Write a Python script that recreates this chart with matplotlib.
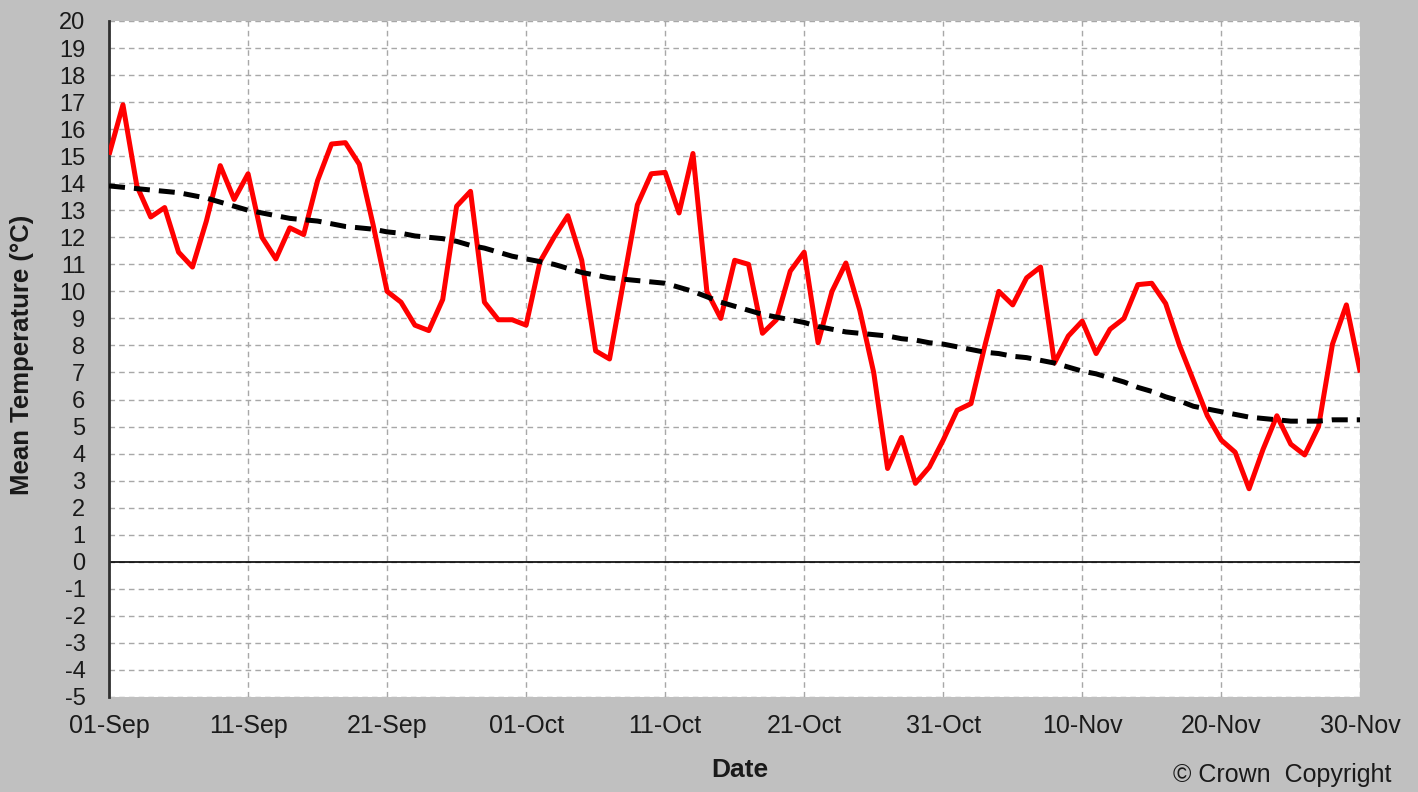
import matplotlib
matplotlib.use('Agg')
import matplotlib.pyplot as plt
import matplotlib.dates as mdates
import numpy as np
import pandas as pd

plt.rcParams['font.family'] = ['Liberation Sans', 'DejaVu Sans']
plt.rcParams['axes.unicode_minus'] = False

# Daily mean temperature, 1 Sep - 30 Nov
dates = pd.date_range('2023-09-01', '2023-11-30', freq='D')

daily_mean = [
    15.05, 16.9, 13.9, 12.75, 13.1, 11.45, 10.9, 12.6, 14.65, 13.4,
    14.35, 12.0, 11.2, 12.35, 12.1, 14.1, 15.45, 15.5, 14.7, 12.45,
    10.0, 9.6, 8.75, 8.55, 9.7, 13.15, 13.7, 9.6, 8.95, 8.95,
    8.75, 11.1, 12.0, 12.8, 11.15, 7.8, 7.5, 10.35, 13.2, 14.35,
    14.4, 12.9, 15.1, 10.0, 9.0, 11.15, 11.0, 8.45, 8.95, 10.75,
    11.45, 8.1, 10.0, 11.05, 9.3, 7.0, 3.45, 4.6, 2.9, 3.5,
    4.5, 5.6, 5.85, 8.0, 10.0, 9.5, 10.5, 10.9, 7.35, 8.35,
    8.9, 7.7, 8.6, 9.0, 10.25, 10.3, 9.55, 8.0, 6.7, 5.4,
    4.5, 4.05, 2.7, 4.15, 5.4, 4.35, 3.95, 5.0, 8.05, 9.5,
    7.0,
]

# long-term average
average = [
    13.9, 13.85, 13.8, 13.75, 13.7, 13.65, 13.55, 13.45, 13.3, 13.15,
    13.0, 12.9, 12.8, 12.7, 12.65, 12.6, 12.5, 12.4, 12.35, 12.3,
    12.2, 12.15, 12.05, 12.0, 11.95, 11.85, 11.7, 11.6, 11.45, 11.3,
    11.2, 11.1, 11.0, 10.85, 10.7, 10.6, 10.5, 10.45, 10.4, 10.35,
    10.3, 10.15, 10.0, 9.8, 9.6, 9.45, 9.3, 9.15, 9.05, 8.95,
    8.85, 8.7, 8.6, 8.5, 8.45, 8.4, 8.35, 8.25, 8.2, 8.1,
    8.05, 7.95, 7.85, 7.75, 7.7, 7.6, 7.55, 7.45, 7.35, 7.2,
    7.05, 6.95, 6.8, 6.65, 6.45, 6.3, 6.1, 5.95, 5.75, 5.65,
    5.55, 5.45, 5.35, 5.3, 5.25, 5.2, 5.2, 5.2, 5.25, 5.25,
    5.25,
]

bg = '#c0c0c0'
txt = '#1a1a1a'
fig = plt.figure(figsize=(14.18, 7.92), dpi=100, facecolor=bg)
ax = fig.add_axes([0.0769, 0.12, 0.8824, 0.8535])
ax.set_facecolor('white')

ax.plot(dates, daily_mean, color='#ff0000', lw=3.6, zorder=3,
        solid_joinstyle='round', solid_capstyle='butt')
ax.plot(dates, average, color='black', lw=3.6, dashes=(3.2, 1.8), zorder=4)
ax.axhline(0, color='black', lw=1.2, zorder=2)

ax.set_xlim(dates[0], dates[-1])
ax.set_ylim(-5, 20)
ax.set_yticks(np.arange(-5, 21, 1))
ax.set_xticks(dates[::10])
ax.xaxis.set_major_formatter(mdates.DateFormatter('%d-%b'))

ax.grid(True, color='#a8a8a8', linestyle=(0, (4, 3)), lw=1.0, zorder=1)
for s in ['top', 'right', 'bottom']:
    ax.spines[s].set_visible(False)
ax.spines['left'].set_color('#303030')
ax.spines['left'].set_linewidth(2)

ax.tick_params(axis='both', length=0, colors=txt)
ax.tick_params(axis='y', labelsize=17, pad=17)
ax.tick_params(axis='x', labelsize=18, pad=12)

fig.text(22 / 1418, 0.552, 'Mean Temperature (°C)', rotation=90, fontsize=18.5,
         fontweight='bold', color=txt, ha='center', va='center')
fig.text(740 / 1418, 1 - 770 / 792, 'Date', fontsize=19, fontweight='bold',
         color=txt, ha='center', va='center')
fig.text(1282 / 1418, 1 - 775 / 792, '© Crown  Copyright', fontsize=18,
         color=txt, ha='center', va='center')

fig.savefig('out.png', dpi=100, facecolor=bg)
